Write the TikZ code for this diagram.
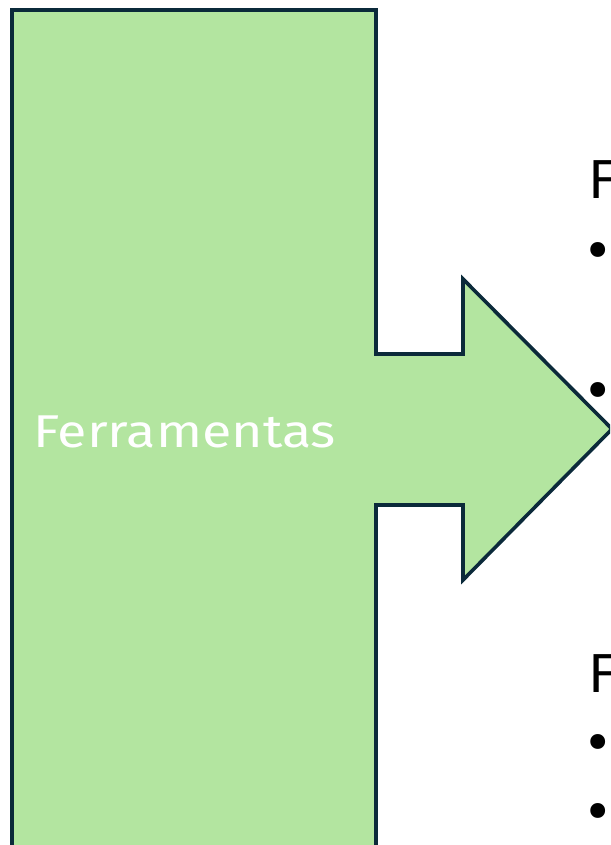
\documentclass[tikz,border=0pt]{standalone}
\usepackage{fontspec}
\setmainfont{Fira Sans}
\newfontfamily\widefont[FakeStretch=1.17]{Fira Sans}
\definecolor{boxfill}{HTML}{B3E5A0}
\definecolor{boxline}{HTML}{0B2A3A}
\begin{document}
\begin{tikzpicture}[x=1pt,y=-1pt,
  whitelabel/.style={text=white,font=\widefont\fontsize{46}{50}\selectfont,inner sep=0pt,anchor=base west},
  blacklabel/.style={text=black,font=\fontsize{55}{60}\selectfont,inner sep=0pt,anchor=base west},
  bulletmark/.style={text=black,font=\fontsize{66}{70}\selectfont,inner sep=0pt,anchor=base}]
\useasboundingbox (0,0) rectangle (610,845);
\clip (0,0) rectangle (610,845);
\draw[boxline,line width=3.6pt,fill=boxfill,line join=miter]
  (12,10) -- (376,10) -- (376,354) -- (463,354) -- (463,279) -- (612,429)
  -- (463,580) -- (463,505) -- (376,505) -- (376,870) -- (12,870) -- cycle;
\node[whitelabel] (tools) at (33,447) {Ferramentas};
\node[blacklabel] (head1) at (588,198) {F};
\node[blacklabel] (head2) at (588,692) {F};
\node[bulletmark] (b1) at (598,272) {•};
\node[bulletmark] (b2) at (598,412) {•};
\node[bulletmark] (b3) at (598,764) {•};
\node[bulletmark] (b4) at (598,833) {•};
\end{tikzpicture}
\end{document}
